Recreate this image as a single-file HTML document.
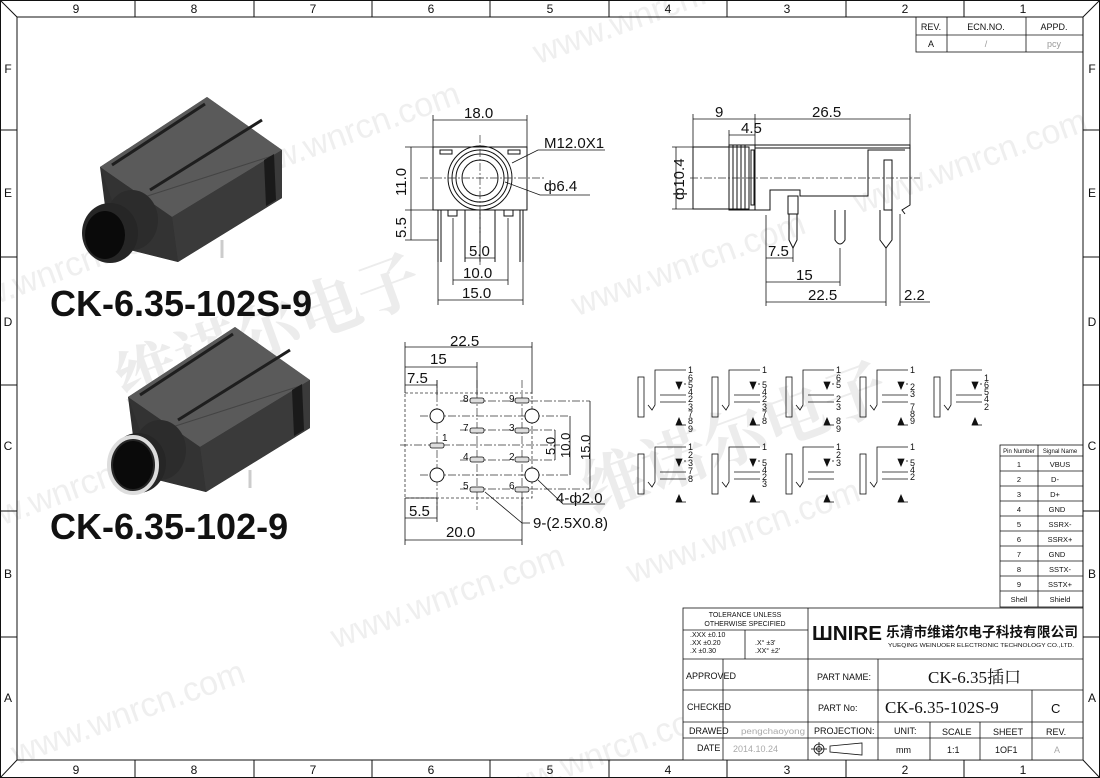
<!DOCTYPE html>
<html><head><meta charset="utf-8"><style>
html,body{margin:0;padding:0;background:#fff;overflow:hidden;width:1100px;height:778px}
svg{display:block}
text{font-family:"Liberation Sans","Noto Sans CJK SC",sans-serif;fill:#111}
.wm{fill:#efefef;font-size:34px}
.cn{fill:#ececec;font-size:64px;font-family:"Noto Serif CJK SC","Noto Sans CJK SC",serif;font-weight:bold}
.l{stroke:#111;stroke-width:1;fill:none}
.t{stroke:#111;stroke-width:0.8;fill:none}
.c{stroke:#333;stroke-width:0.7;fill:none;stroke-dasharray:8 2 2 2}
.d{font-size:15px}
.s{font-size:10px}
.tb{font-size:9px}
</style></head><body>
<svg width="1100" height="778" viewBox="0 0 1100 778" xmlns="http://www.w3.org/2000/svg">
<!-- watermarks -->
<g transform="rotate(-20 550 389)">
<text class="wm" x="0" y="120">www.wnrcn.com</text>
<text class="wm" x="320" y="90">www.wnrcn.com</text>
<text class="wm" x="650" y="80">www.wnrcn.com</text>
<text class="wm" x="-60" y="330">www.wnrcn.com</text>
<text class="wm" x="600" y="330">www.wnrcn.com</text>
<text class="wm" x="900" y="330">www.wnrcn.com</text>
<text class="wm" x="-80" y="560">www.wnrcn.com</text>
<text class="wm" x="260" y="560">www.wnrcn.com</text>
<text class="wm" x="560" y="600">www.wnrcn.com</text>
<text class="wm" x="-60" y="760">www.wnrcn.com</text>
<text class="wm" x="350" y="760">www.wnrcn.com</text>
</g>
<g transform="rotate(-20 300 300)"><text class="cn" x="100" y="340">维诺尔电子</text></g>
<g transform="rotate(-20 700 400)"><text class="cn" x="560" y="470">维诺尔电子</text></g>

<!-- frame -->
<rect x="0.5" y="0.5" width="1099" height="777" class="l"/>
<rect x="17" y="17" width="1066" height="743" class="l"/>
<line x1="0" y1="0" x2="17" y2="17" class="l"/><line x1="1100" y1="0" x2="1083" y2="17" class="l"/>
<line x1="0" y1="778" x2="17" y2="760" class="l"/><line x1="1100" y1="778" x2="1083" y2="760" class="l"/>
<g class="l">
<line x1="135" y1="0" x2="135" y2="17"/><line x1="254" y1="0" x2="254" y2="17"/><line x1="372" y1="0" x2="372" y2="17"/><line x1="490" y1="0" x2="490" y2="17"/><line x1="609" y1="0" x2="609" y2="17"/><line x1="727" y1="0" x2="727" y2="17"/><line x1="846" y1="0" x2="846" y2="17"/><line x1="964" y1="0" x2="964" y2="17"/>
<line x1="135" y1="760" x2="135" y2="778"/><line x1="254" y1="760" x2="254" y2="778"/><line x1="372" y1="760" x2="372" y2="778"/><line x1="490" y1="760" x2="490" y2="778"/><line x1="609" y1="760" x2="609" y2="778"/><line x1="727" y1="760" x2="727" y2="778"/><line x1="846" y1="760" x2="846" y2="778"/><line x1="964" y1="760" x2="964" y2="778"/>
<line x1="0" y1="130" x2="17" y2="130"/><line x1="0" y1="257" x2="17" y2="257"/><line x1="0" y1="385" x2="17" y2="385"/><line x1="0" y1="511" x2="17" y2="511"/><line x1="0" y1="637" x2="17" y2="637"/>
<line x1="1083" y1="130" x2="1100" y2="130"/><line x1="1083" y1="257" x2="1100" y2="257"/><line x1="1083" y1="385" x2="1100" y2="385"/><line x1="1083" y1="511" x2="1100" y2="511"/><line x1="1083" y1="637" x2="1100" y2="637"/>
</g>
<g font-size="12" text-anchor="middle">
<text x="76" y="13">9</text><text x="194" y="13">8</text><text x="313" y="13">7</text><text x="431" y="13">6</text><text x="550" y="13">5</text><text x="668" y="13">4</text><text x="787" y="13">3</text><text x="905" y="13">2</text><text x="1023" y="13">1</text>
<text x="76" y="774">9</text><text x="194" y="774">8</text><text x="313" y="774">7</text><text x="431" y="774">6</text><text x="550" y="774">5</text><text x="668" y="774">4</text><text x="787" y="774">3</text><text x="905" y="774">2</text><text x="1023" y="774">1</text>
<text x="8" y="73">F</text><text x="8" y="197">E</text><text x="8" y="326">D</text><text x="8" y="450">C</text><text x="8" y="578">B</text><text x="8" y="702">A</text>
<text x="1092" y="73">F</text><text x="1092" y="197">E</text><text x="1092" y="326">D</text><text x="1092" y="450">C</text><text x="1092" y="578">B</text><text x="1092" y="702">A</text>
</g>

<!-- rev table -->
<g class="t"><rect x="916" y="17" width="167" height="35"/><line x1="916" y1="35" x2="1083" y2="35"/><line x1="947" y1="17" x2="947" y2="52"/><line x1="1026" y1="17" x2="1026" y2="52"/></g>
<g class="tb" text-anchor="middle"><text x="931" y="30">REV.</text><text x="986" y="30">ECN.NO.</text><text x="1054" y="30">APPD.</text><text x="931" y="47">A</text><text x="986" y="47" style="fill:#999">/</text><text x="1054" y="47" style="fill:#999">pcy</text></g>

<!-- photos -->
<g id="ph">
<polygon points="100,167 207,97 282,150 282,198 178,262 110,245" fill="#2f2f2f"/>
<polygon points="100,167 207,97 282,150 172,217" fill="#5a5a5a"/>
<polygon points="172,217 282,150 282,198 178,262" fill="#3a3a3a"/>
<polygon points="100,167 172,217 178,262 130,250" fill="#333"/>
<line x1="112" y1="165" x2="205" y2="104" stroke="#1e1e1e" stroke-width="3"/>
<line x1="150" y1="190" x2="262" y2="120" stroke="#1e1e1e" stroke-width="3"/>
<line x1="135" y1="200" x2="272" y2="156" stroke="#444" stroke-width="1"/>
<polygon points="264,160 274,154 276,200 266,206" fill="#1a1a1a"/>
<ellipse cx="132" cy="220" rx="26" ry="30" fill="#2c2c2c"/>
<ellipse cx="110" cy="233" rx="28" ry="30" fill="#262626"/>
<ellipse cx="105" cy="235" rx="20" ry="24" fill="#0a0a0a"/>
<line x1="222" y1="240" x2="222" y2="258" stroke="#ccc" stroke-width="3"/>
</g>
<use href="#ph" transform="translate(28,230)"/>
<ellipse cx="133" cy="465" rx="24" ry="28" fill="none" stroke="#ddd" stroke-width="4"/>
<ellipse cx="133" cy="466" rx="18" ry="22" fill="#0a0a0a"/>
<text x="50" y="316" font-size="36" font-weight="bold">CK-6.35-102S-9</text>
<text x="50" y="539" font-size="36" font-weight="bold">CK-6.35-102-9</text>

<!-- front view -->
<g class="l">
<rect x="433" y="147" width="94" height="63"/>
<circle cx="480" cy="178" r="32"/><circle cx="480" cy="178" r="28"/><circle cx="480" cy="178" r="24"/><circle cx="480" cy="178" r="18"/>
<rect x="440" y="150" width="12" height="4"/><rect x="508" y="150" width="12" height="4"/>
<rect x="448" y="210" width="9" height="6"/><rect x="504" y="210" width="9" height="6"/>
<line x1="438" y1="210" x2="438" y2="262"/><line x1="441" y1="210" x2="441" y2="262"/>
<line x1="465" y1="210" x2="465" y2="262"/><line x1="480" y1="210" x2="480" y2="262"/><line x1="495" y1="210" x2="495" y2="262"/>
<line x1="520" y1="210" x2="520" y2="262"/><line x1="523" y1="210" x2="523" y2="262"/>
</g>
<line x1="420" y1="178" x2="545" y2="178" class="c"/><line x1="480" y1="135" x2="480" y2="265" class="c"/>
<g class="t">
<line x1="433" y1="120" x2="527" y2="120"/><line x1="433" y1="115" x2="433" y2="147"/><line x1="527" y1="115" x2="527" y2="147"/>
<line x1="411" y1="147" x2="411" y2="240"/><line x1="405" y1="147" x2="433" y2="147"/><line x1="405" y1="210" x2="433" y2="210"/><line x1="405" y1="240" x2="438" y2="240"/>
<line x1="465" y1="258" x2="495" y2="258"/><line x1="453" y1="280" x2="508" y2="280"/><line x1="453" y1="218" x2="453" y2="285"/><line x1="508" y1="218" x2="508" y2="285"/>
<line x1="438" y1="300" x2="523" y2="300"/><line x1="438" y1="262" x2="438" y2="305"/><line x1="523" y1="262" x2="523" y2="305"/>
<polyline points="512,163 538,150 605,150"/><polyline points="505,182 540,195 590,195"/>
</g>
<g class="d"><text x="464" y="118">18.0</text><text x="544" y="148">M12.0X1</text><text x="544" y="191">ф6.4</text>
<text x="406" y="196" transform="rotate(-90 406 196)">11.0</text><text x="406" y="238" transform="rotate(-90 406 238)">5.5</text>
<text x="469" y="256">5.0</text><text x="463" y="278">10.0</text><text x="462" y="298">15.0</text></g>

<!-- side view -->
<g class="l">
<rect x="693" y="147" width="56" height="62"/><rect x="729" y="145" width="26" height="65"/>
<line x1="733" y1="145" x2="733" y2="210"/><line x1="737" y1="145" x2="737" y2="210"/><line x1="741" y1="145" x2="741" y2="210"/><line x1="745" y1="145" x2="745" y2="210"/>
<rect x="751" y="150" width="3" height="55"/>
<polyline points="755,145 910,145 910,205 902,210 905,214"/><line x1="755" y1="148" x2="910" y2="148"/>
<polyline points="755,210 770,210 770,190 800,190 800,196 868,196 868,150 905,150"/>
<rect x="884" y="160" width="8" height="50"/>
<rect x="788" y="196" width="10" height="18"/>
<path d="M789 214 L789 240 L793 248 L797 240 L797 214"/>
<path d="M835 210 L835 240 Q840 248 845 240 L845 210"/>
<path d="M880 210 L880 240 L886 248 L892 240 L892 210"/>
</g>
<line x1="690" y1="178" x2="920" y2="178" class="c"/>
<g class="t">
<line x1="693" y1="119" x2="910" y2="119"/><line x1="693" y1="114" x2="693" y2="147"/><line x1="755" y1="114" x2="755" y2="145"/><line x1="910" y1="114" x2="910" y2="145"/>
<line x1="729" y1="135" x2="755" y2="135"/><line x1="729" y1="130" x2="729" y2="145"/>
<line x1="676" y1="147" x2="676" y2="209"/><line x1="672" y1="147" x2="693" y2="147"/><line x1="672" y1="209" x2="693" y2="209"/>
<line x1="766" y1="258" x2="793" y2="258"/><line x1="766" y1="215" x2="766" y2="306"/><line x1="793" y1="248" x2="793" y2="262"/>
<line x1="766" y1="282" x2="840" y2="282"/><line x1="840" y1="248" x2="840" y2="286"/>
<line x1="766" y1="302" x2="886" y2="302"/><line x1="886" y1="248" x2="886" y2="306"/>
<line x1="900" y1="302" x2="930" y2="302"/><line x1="900" y1="214" x2="900" y2="306"/>
</g>
<g class="d"><text x="715" y="117">9</text><text x="812" y="117">26.5</text><text x="741" y="133">4.5</text>
<text x="684" y="200" transform="rotate(-90 684 200)">ф10.4</text>
<text x="768" y="256">7.5</text><text x="796" y="280">15</text><text x="808" y="300">22.5</text><text x="904" y="300">2.2</text></g>

<!-- bottom view -->
<rect x="405" y="393" width="127" height="105" fill="none" stroke="#333" stroke-width="0.8" stroke-dasharray="3 2"/>
<g class="c"><line x1="420" y1="416" x2="570" y2="416"/><line x1="420" y1="475" x2="570" y2="475"/><line x1="400" y1="445" x2="560" y2="445"/>
<line x1="437" y1="380" x2="437" y2="510"/><line x1="477" y1="380" x2="477" y2="510"/><line x1="522" y1="380" x2="522" y2="510"/>
<line x1="460" y1="401" x2="590" y2="401"/><line x1="460" y1="430" x2="555" y2="430"/><line x1="460" y1="460" x2="555" y2="460"/><line x1="460" y1="489" x2="590" y2="489"/></g>
<g class="l"><circle cx="437" cy="416" r="7" fill="#fff"/><circle cx="437" cy="475" r="7" fill="#fff"/><circle cx="532" cy="416" r="7" fill="#fff"/><circle cx="532" cy="475" r="7" fill="#fff"/></g>
<g fill="#ddd" stroke="#111" stroke-width="0.8">
<rect x="470" y="398" width="14" height="5" rx="2"/><rect x="515" y="398" width="14" height="5" rx="2"/>
<rect x="470" y="428" width="14" height="5" rx="2"/><rect x="515" y="428" width="14" height="5" rx="2"/>
<rect x="470" y="457" width="14" height="5" rx="2"/><rect x="515" y="457" width="14" height="5" rx="2"/>
<rect x="470" y="487" width="14" height="5" rx="2"/><rect x="515" y="487" width="14" height="5" rx="2"/>
<rect x="430" y="443" width="14" height="5" rx="2"/></g>
<g class="s"><text x="463" y="402">8</text><text x="509" y="402">9</text><text x="463" y="431">7</text><text x="509" y="431">3</text><text x="442" y="441">1</text><text x="463" y="460">4</text><text x="509" y="460">2</text><text x="463" y="489">5</text><text x="509" y="489">6</text></g>
<g class="t">
<line x1="405" y1="347" x2="532" y2="347"/><line x1="405" y1="342" x2="405" y2="393"/><line x1="532" y1="342" x2="532" y2="393"/>
<line x1="405" y1="367" x2="477" y2="367"/><line x1="477" y1="362" x2="477" y2="395"/>
<line x1="405" y1="385" x2="437" y2="385"/><line x1="437" y1="380" x2="437" y2="395"/>
<line x1="405" y1="518" x2="437" y2="518"/><line x1="405" y1="498" x2="437" y2="498"/><line x1="437" y1="498" x2="437" y2="522"/>
<line x1="405" y1="540" x2="522" y2="540"/><line x1="405" y1="498" x2="405" y2="545"/><line x1="522" y1="498" x2="522" y2="545"/>
<line x1="555" y1="430" x2="555" y2="460"/><line x1="570" y1="416" x2="570" y2="475"/><line x1="590" y1="401" x2="590" y2="489"/>
<polyline points="538,480 563,504 605,504"/><polyline points="485,492 522,523 530,523"/>
</g>
<g class="d"><text x="450" y="346">22.5</text><text x="430" y="364">15</text><text x="407" y="383">7.5</text><text x="409" y="516">5.5</text><text x="446" y="537">20.0</text>
<text x="555" y="455" transform="rotate(-90 555 455)" font-size="13">5.0</text><text x="570" y="458" transform="rotate(-90 570 458)" font-size="13">10.0</text><text x="590" y="460" transform="rotate(-90 590 460)" font-size="13">15.0</text>
<text x="556" y="503">4-ф2.0</text><text x="533" y="528">9-(2.5X0.8)</text></g>

<!-- schematics -->
<g id="sc1" class="t" stroke-width="0.8">
<rect x="638" y="377" width="6" height="40"/>
<polyline points="648,405 652,410 655,405 655,370 686,370"/>
<line x1="660" y1="395" x2="686" y2="395"/><line x1="660" y1="402" x2="686" y2="402"/>
<polygon points="676,382 682,382 679,389" fill="#111"/><line x1="684" y1="384" x2="686" y2="384"/>
<polygon points="676,425 682,425 679,418" fill="#111"/><line x1="676" y1="425" x2="686" y2="425"/>
</g>
<g font-size="9">
<text x="688" y="373">1</text><text x="688" y="381">6</text><text x="688" y="388">5</text><text x="688" y="395">4</text><text x="688" y="402">2</text><text x="688" y="410">3</text><text x="688" y="417">7</text><text x="688" y="424">8</text><text x="688" y="432">9</text></g>
<use href="#sc1" transform="translate(74,0)"/><use href="#sc1" transform="translate(148,0)"/><use href="#sc1" transform="translate(222,0)"/><use href="#sc1" transform="translate(296,0)"/>
<use href="#sc1" transform="translate(0,77)"/><use href="#sc1" transform="translate(74,77)"/><use href="#sc1" transform="translate(148,77)"/><use href="#sc1" transform="translate(222,77)"/>
<g font-size="9">
<text x="762" y="373">1</text><text x="762" y="388">5</text><text x="762" y="395">4</text><text x="762" y="402">2</text><text x="762" y="410">3</text><text x="762" y="417">7</text><text x="762" y="424">8</text>
<text x="836" y="373">1</text><text x="836" y="381">6</text><text x="836" y="388">5</text><text x="836" y="402">2</text><text x="836" y="410">3</text><text x="836" y="424">8</text><text x="836" y="432">9</text>
<text x="910" y="373">1</text><text x="910" y="390">2</text><text x="910" y="397">3</text><text x="910" y="410">7</text><text x="910" y="417">8</text><text x="910" y="424">9</text>
<text x="984" y="381">1</text><text x="984" y="388">6</text><text x="984" y="395">5</text><text x="984" y="402">4</text><text x="984" y="410">2</text>
<text x="688" y="450">1</text><text x="688" y="458">2</text><text x="688" y="466">3</text><text x="688" y="474">7</text><text x="688" y="482">8</text>
<text x="762" y="450">1</text><text x="762" y="466">5</text><text x="762" y="473">4</text><text x="762" y="480">2</text><text x="762" y="487">3</text>
<text x="836" y="450">1</text><text x="836" y="458">2</text><text x="836" y="466">3</text>
<text x="910" y="450">1</text><text x="910" y="466">5</text><text x="910" y="473">4</text><text x="910" y="480">2</text></g>

<!-- pin table -->
<g class="t"><rect x="1000" y="445" width="83" height="162"/><line x1="1038" y1="445" x2="1038" y2="607"/>
<line x1="1000" y1="456" x2="1083" y2="456"/><line x1="1000" y1="471" x2="1083" y2="471"/><line x1="1000" y1="486" x2="1083" y2="486"/><line x1="1000" y1="501" x2="1083" y2="501"/><line x1="1000" y1="516" x2="1083" y2="516"/><line x1="1000" y1="531" x2="1083" y2="531"/><line x1="1000" y1="546" x2="1083" y2="546"/><line x1="1000" y1="561" x2="1083" y2="561"/><line x1="1000" y1="576" x2="1083" y2="576"/><line x1="1000" y1="591" x2="1083" y2="591"/></g>
<g font-size="7.5" text-anchor="middle"><text x="1019" y="453" font-size="6">Pin Number</text><text x="1060" y="453" font-size="6">Signal Name</text>
<text x="1019" y="467">1</text><text x="1060" y="467">VBUS</text><text x="1019" y="482">2</text><text x="1055" y="482">D-</text><text x="1019" y="497">3</text><text x="1055" y="497">D+</text><text x="1019" y="512">4</text><text x="1057" y="512">GND</text><text x="1019" y="527">5</text><text x="1060" y="527">SSRX-</text><text x="1019" y="542">6</text><text x="1060" y="542">SSRX+</text><text x="1019" y="557">7</text><text x="1057" y="557">GND</text><text x="1019" y="572">8</text><text x="1060" y="572">SSTX-</text><text x="1019" y="587">9</text><text x="1060" y="587">SSTX+</text><text x="1019" y="602">Shell</text><text x="1060" y="602">Shield</text></g>

<!-- title block -->
<rect x="683" y="608" width="400" height="152" fill="#fff"/>
<g class="t">
<rect x="683" y="608" width="400" height="152"/>
<line x1="683" y1="659" x2="1083" y2="659"/><line x1="683" y1="630" x2="808" y2="630"/><line x1="745" y1="630" x2="745" y2="659"/>
<line x1="808" y1="608" x2="808" y2="760"/>
<line x1="683" y1="690" x2="1083" y2="690"/><line x1="683" y1="722" x2="1083" y2="722"/><line x1="683" y1="738" x2="1083" y2="738"/>
<line x1="723" y1="659" x2="723" y2="760"/><line x1="878" y1="659" x2="878" y2="722"/><line x1="1032" y1="690" x2="1032" y2="760"/>
<line x1="930" y1="722" x2="930" y2="760"/><line x1="980" y1="722" x2="980" y2="760"/><line x1="878" y1="722" x2="878" y2="760"/>
</g>
<g font-size="7" text-anchor="middle"><text x="745" y="617">TOLERANCE UNLESS</text><text x="745" y="626">OTHERWISE SPECIFIED</text></g>
<g font-size="7"><text x="690" y="637">.XXX ±0.10</text><text x="690" y="645">.XX  ±0.20</text><text x="690" y="653">.X    ±0.30</text><text x="755" y="645">.X°    ±3'</text><text x="755" y="653">.XX°  ±2'</text></g>
<text x="812" y="640" font-size="20" font-weight="bold" textLength="70" lengthAdjust="spacingAndGlyphs">ШNIRE</text>
<text x="886" y="637" font-size="14" font-weight="bold" textLength="192" lengthAdjust="spacingAndGlyphs">乐清市维诺尔电子科技有限公司</text>
<text x="888" y="647" font-size="5.5" textLength="186" lengthAdjust="spacingAndGlyphs">YUEQING WEINUOER ELECTRONIC TECHNOLOGY CO.,LTD.</text>
<g font-size="9"><text x="686" y="679">APPROVED</text><text x="687" y="710">CHECKED</text><text x="689" y="734">DRAWED</text><text x="697" y="751">DATE</text>
<text x="817" y="680">PART NAME:</text><text x="818" y="711">PART No:</text><text x="814" y="734">PROJECTION:</text>
<text x="894" y="734">UNIT:</text><text x="942" y="735">SCALE</text><text x="993" y="735">SHEET</text><text x="1046" y="735">REV.</text>
<text x="896" y="753">mm</text><text x="947" y="753">1:1</text><text x="995" y="753">1OF1</text><text x="1054" y="753" style="fill:#aaa">A</text>
<text x="741" y="734" style="fill:#aaa" font-size="8" textLength="64" lengthAdjust="spacingAndGlyphs">pengchaoyong</text><text x="733" y="752" style="fill:#aaa">2014.10.24</text></g>
<text x="928" y="683" font-size="17" style="font-family:'Liberation Serif','Noto Serif CJK SC',serif">CK-6.35插口</text>
<text x="885" y="713" font-size="17" style="font-family:'Liberation Serif',serif">CK-6.35-102S-9</text>
<text x="1051" y="713" font-size="13">C</text>
<g class="t"><circle cx="819" cy="749" r="5"/><circle cx="819" cy="749" r="2.5"/><line x1="811" y1="749" x2="827" y2="749"/><line x1="819" y1="742" x2="819" y2="756"/><polygon points="830,746 862,743 862,755 830,752"/></g>
</svg>
</body></html>
